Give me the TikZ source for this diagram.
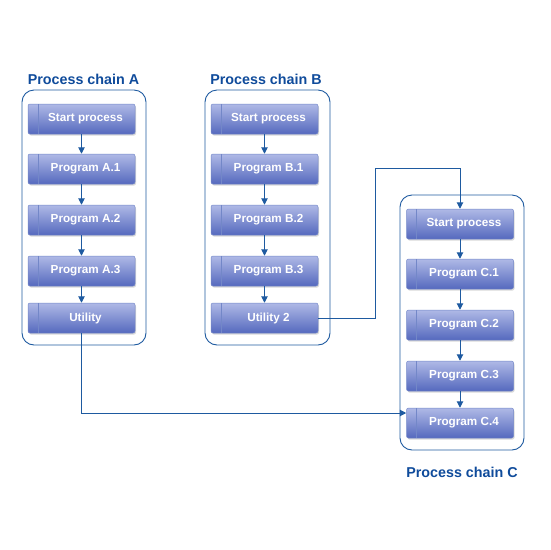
\documentclass[tikz,border=0pt]{standalone}
\usepackage{fontspec}
\setmainfont{Liberation Sans}
\usetikzlibrary{arrows.meta,shadows}
\definecolor{lineblue}{RGB}{30,90,160}
\definecolor{titleblue}{RGB}{15,75,155}
\definecolor{boxtop}{RGB}{175,185,230}
\definecolor{boxbot}{RGB}{85,105,190}
\definecolor{boxedge}{RGB}{115,135,200}
\tikzset{
  pbox/.style={rectangle, minimum width=107pt, minimum height=30pt, rounded corners=2pt,
    top color=boxtop, bottom color=boxbot, draw=boxedge, line width=0.5pt,
    text=white, font=\bfseries\fontsize{11.7}{13}\selectfont,
    execute at begin node={\hspace*{8pt}},
    drop shadow={shadow xshift=1pt, shadow yshift=-1.5pt, opacity=0.3},
    path picture={\draw[boxedge, line width=0.6pt] ([xshift=10pt]path picture bounding box.north west) -- ([xshift=10pt]path picture bounding box.south west);}},
  chain/.style={draw=lineblue, line width=0.9pt, rounded corners=12pt},
  title/.style={text=titleblue, font=\bfseries\fontsize{14.3}{16}\selectfont},
  conn/.style={draw=lineblue, line width=1pt, -{Triangle[length=6.5pt,width=6.5pt]}}
}
\begin{document}
\begin{tikzpicture}[x=1pt,y=-1pt]
\useasboundingbox (0,0) rectangle (550,550);
% containers
\draw[chain] (22,90) rectangle (146,345);
\draw[chain] (205,90) rectangle (330,345);
\draw[chain] (400,195) rectangle (524,450);
\node[title] (ta) at (83.5,79) {Process chain A};
\node[title] (tb) at (266,79) {Process chain B};
\node[title] (tc) at (462,472) {Process chain C};
% chain A
\node[pbox] (a0) at (81.5,119) {Start process};
\node[pbox] (a1) at (81.5,169) {Program A.1};
\node[pbox] (a2) at (81.5,220) {Program A.2};
\node[pbox] (a3) at (81.5,271) {Program A.3};
\node[pbox] (au) at (81.5,318) {Utility};
% chain B
\node[pbox] (b0) at (264.5,119) {Start process};
\node[pbox] (b1) at (264.5,169) {Program B.1};
\node[pbox] (b2) at (264.5,220) {Program B.2};
\node[pbox] (b3) at (264.5,271) {Program B.3};
\node[pbox] (bu) at (264.5,318) {Utility 2};
% chain C
\node[pbox] (c0) at (460,224) {Start process};
\node[pbox] (c1) at (460,274) {Program C.1};
\node[pbox] (c2) at (460,325) {Program C.2};
\node[pbox] (c3) at (460,376) {Program C.3};
\node[pbox] (c4) at (460,423) {Program C.4};
% arrows inside
\foreach \p/\q in {a0/a1,a1/a2,a2/a3,a3/au,b0/b1,b1/b2,b2/b3,b3/bu,c0/c1,c1/c2,c2/c3,c3/c4}
  \draw[conn] (\p.south) -- (\q.north);
% cross links
\coordinate (k1) at (375,318);
\coordinate (k2) at (375,168);
\draw[conn] (bu.east) -- (k1) -- (k2) -- (c0.north |- k2) -- (c0.north);
\coordinate (k3) at (81.5,413);
\draw[conn] (au.south) -- (k3) -- (c4.west |- k3);
\end{tikzpicture}
\end{document}
